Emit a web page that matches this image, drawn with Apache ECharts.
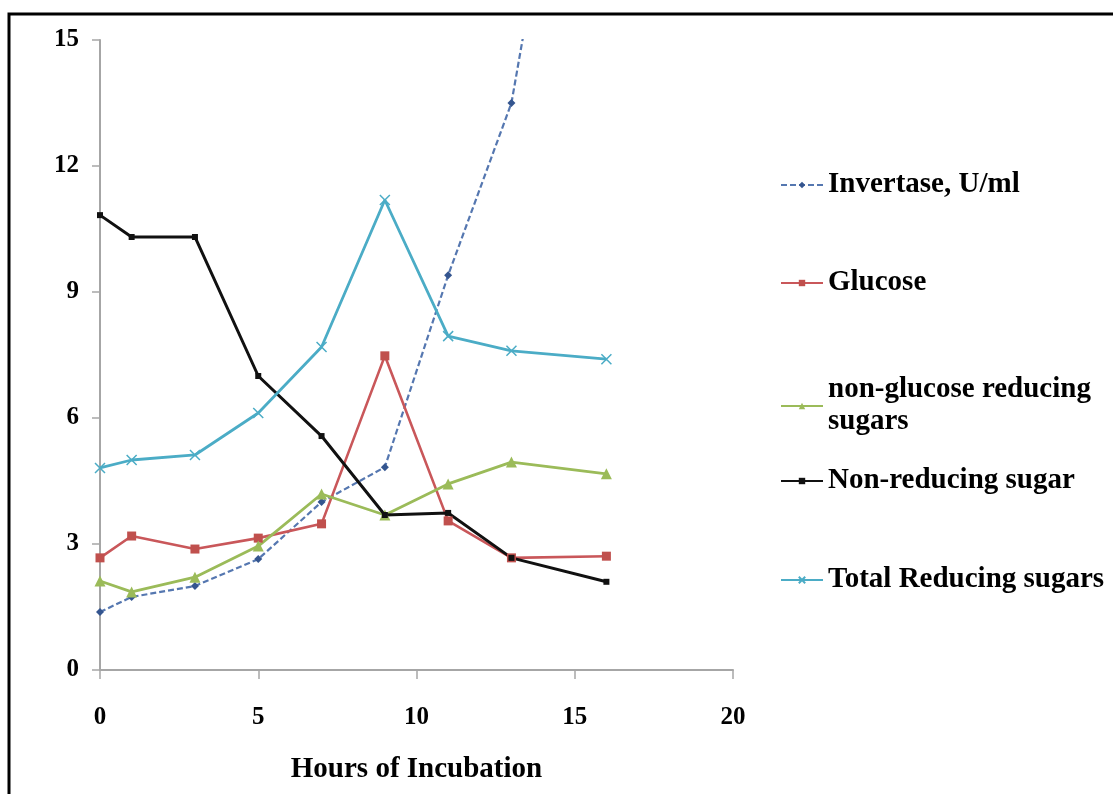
<!DOCTYPE html>
<html>
<head>
<meta charset="utf-8">
<script src="https://cdn.jsdelivr.net/npm/echarts@6/dist/echarts.min.js"></script>
<style>html,body{margin:0;padding:0;background:#fff}#c{width:1113px;height:794px}</style>
</head>
<body>
<div id="c"></div>
<script>
const hours = [0, 1, 3, 5, 7, 9, 11, 13, 16];
const invertase = [1.38, 1.74, 2.0, 2.64, 4.0, 4.83, 9.4, 13.5, 26.4];
const glucose = [2.67, 3.19, 2.88, 3.14, 3.48, 7.48, 3.55, 2.67, 2.71];
const nonGlucose = [2.12, 1.86, 2.21, 2.95, 4.19, 3.69, 4.43, 4.95, 4.67];
const nonReducing = [10.83, 10.31, 10.31, 7.0, 5.57, 3.69, 3.74, 2.67, 2.10];
const totalReducing = [4.81, 5.0, 5.12, 6.12, 7.69, 11.19, 7.95, 7.6, 7.4];
const seriesNames = ['Invertase, U/ml', 'Glucose', 'non-glucose reducing\nsugars', 'Non-reducing sugar', 'Total Reducing sugars'];
const xTicks = [0, 5, 10, 15, 20];
const yTicks = [0, 3, 6, 9, 12, 15];

const pair = arr => hours.map((h, i) => [h, arr[i]]);
const FONT = 'Liberation Serif';
const xPath = 'path://M0,0L10,10M10,0L0,10';

const legendTops = [164, 262, 369, 460, 559];
const legends = seriesNames.map((n, i) => ({
  data: [n],
  left: 775,
  top: legendTops[i],
  orient: 'vertical',
  itemWidth: 42,
  itemHeight: 8,
  itemGap: 0,
  selectedMode: false,
  textStyle: { fontFamily: FONT, fontWeight: 'bold', fontSize: 29, color: '#000', lineHeight: 32 }
}));

const chart = echarts.init(document.getElementById('c'));
chart.setOption({
  animation: false,
  backgroundColor: '#fff',
  graphic: [{
    type: 'rect', z: -10,
    shape: { x: 9, y: 14, width: 1200, height: 900 },
    style: { fill: 'none', stroke: '#000', lineWidth: 3 }
  }],
  legend: legends,
  grid: { left: 100, right: 380, top: 40, bottom: 124, containLabel: false, outerBoundsMode: 'none' },
  xAxis: {
    type: 'value', min: 0, max: 20, interval: 5,
    name: 'Hours of Incubation', nameLocation: 'middle', nameGap: 85,
    nameTextStyle: { fontFamily: FONT, fontWeight: 'bold', fontSize: 29, color: '#000' },
    axisLine: { lineStyle: { color: '#a6a6a6', width: 2 } },
    axisTick: { show: true, length: 9, lineStyle: { color: '#a6a6a6', width: 1.5 } },
    axisLabel: { fontFamily: FONT, fontWeight: 'bold', fontSize: 25, color: '#000', margin: 35,
      formatter: v => xTicks.includes(v) ? String(v) : '' },
    splitLine: { show: false }
  },
  yAxis: {
    type: 'value', min: 0, max: 15, interval: 3,
    axisLine: { show: true, lineStyle: { color: '#a6a6a6', width: 2 } },
    axisTick: { show: true, length: 8, lineStyle: { color: '#a6a6a6', width: 1.5 } },
    axisLabel: { fontFamily: FONT, fontWeight: 'bold', fontSize: 25, color: '#000', margin: 21,
      formatter: v => yTicks.includes(v) ? String(v) : '' },
    splitLine: { show: false }
  },
  series: [
    { name: seriesNames[0], type: 'line', data: pair(invertase), clip: true,
      symbol: 'diamond', symbolSize: 8,
      itemStyle: { color: '#34558f' },
      lineStyle: { color: '#5577b0', width: 2.2, type: [6, 3] } },
    { name: seriesNames[1], type: 'line', data: pair(glucose),
      symbol: 'rect', symbolSize: 9,
      itemStyle: { color: '#c0504d' },
      lineStyle: { color: '#c9575a', width: 2.6 } },
    { name: seriesNames[2], type: 'line', data: pair(nonGlucose),
      symbol: 'triangle', symbolSize: 11,
      itemStyle: { color: '#9bbb59' },
      lineStyle: { color: '#9bbb59', width: 2.8 } },
    { name: seriesNames[3], type: 'line', data: pair(nonReducing),
      symbol: 'rect', symbolSize: 6,
      itemStyle: { color: '#111' },
      lineStyle: { color: '#111', width: 3 } },
    { name: seriesNames[4], type: 'line', data: pair(totalReducing),
      symbol: xPath, symbolSize: 10,
      itemStyle: { color: 'none', borderColor: '#4bacc6', borderWidth: 1.5 },
      lineStyle: { color: '#4bacc6', width: 2.8 } }
  ]
});
</script>
</body>
</html>
